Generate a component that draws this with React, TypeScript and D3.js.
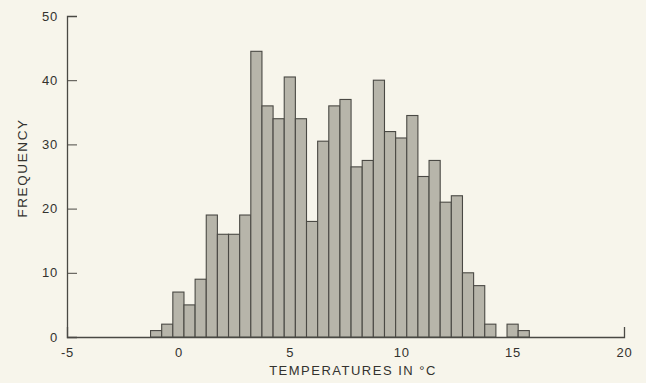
import React, {useEffect, useRef} from 'react';
import * as d3 from 'd3';

// bin centres (°C), bins are half a degree wide
const binCenters = [
  -1, -0.5, 0, 0.5, 1, 1.5, 2, 2.5, 3, 3.5, 4, 4.5, 5, 5.5, 6, 6.5, 7,
  7.5, 8, 8.5, 9, 9.5, 10, 10.5, 11, 11.5, 12, 12.5, 13, 13.5, 14, 14.5, 15, 15.5,
];
const frequencies = [
  1, 2, 7, 5, 9, 19, 16, 16, 19, 44.5, 36, 34, 40.5, 34, 18, 30.5, 36,
  37, 26.5, 27.5, 40, 32, 31, 34.5, 25, 27.5, 21, 22, 10, 8, 2, 0, 2, 1,
];
const xTicks = [-5, 0, 5, 10, 15, 20];
const yTicks = [0, 10, 20, 30, 40, 50];

const width = 646;
const height = 383;
const binWidth = 0.5;

const App: React.FC = () => {
  const ref = useRef<SVGSVGElement>(null);

  useEffect(() => {
    const svg = d3.select(ref.current);
    svg.selectAll('*').remove();

    const x = d3.scaleLinear([-5, 20], [67, 624]);
    const y = d3.scaleLinear([0, 50], [337, 16]);
    const ink = '#4a4944';
    const font = '"Liberation Sans", Arial, sans-serif';

    svg.append('rect')
      .attr('width', width)
      .attr('height', height)
      .attr('fill', '#f7f5eb');

    // x axis, ticks point inwards, plain hyphen for -5
    svg.append('g')
      .attr('transform', `translate(0,${y(0)})`)
      .call(d3.axisBottom(x).tickValues(xTicks).tickFormat(d => String(d))
        .tickSize(-10).tickSizeOuter(-10).tickPadding(11))
      .call(g => g.select('.domain').attr('stroke', ink).attr('stroke-width', 1.3))
      .call(g => g.selectAll('.tick line').attr('stroke', ink))
      .call(g => g.selectAll('.tick text')
        .attr('fill', '#33322e')
        .attr('font-size', 13)
        .attr('letter-spacing', 0.8)
        .attr('font-family', font));

    // y axis
    svg.append('g')
      .attr('transform', `translate(${x(-5)},0)`)
      .call(d3.axisLeft(y).tickValues(yTicks).tickSize(-10).tickSizeOuter(-10).tickPadding(9))
      .call(g => g.select('.domain').attr('stroke', ink).attr('stroke-width', 1.3))
      .call(g => g.selectAll('.tick line').attr('stroke', ink))
      .call(g => g.selectAll('.tick text')
        .attr('fill', '#33322e')
        .attr('font-size', 13)
        .attr('letter-spacing', 0.8)
        .attr('font-family', font));

    const bins = binCenters.map((c, i) => ({c, f: frequencies[i]})).filter(d => d.f > 0);

    svg.append('g')
      .selectAll('rect')
      .data(bins)
      .join('rect')
      .attr('x', d => x(d.c - binWidth / 2))
      .attr('y', d => y(d.f))
      .attr('width', d => x(d.c + binWidth / 2) - x(d.c - binWidth / 2))
      .attr('height', d => y(0) - y(d.f))
      .attr('fill', '#b7b5aa')
      .attr('stroke', ink)
      .attr('stroke-width', 1.1);

    // axis titles
    svg.append('text')
      .attr('x', 353)
      .attr('y', 375)
      .attr('text-anchor', 'middle')
      .attr('fill', '#33322e')
      .attr('font-size', 13)
      .attr('letter-spacing', 1.5)
      .attr('font-family', font)
      .text('TEMPERATURES IN °C');

    svg.append('text')
      .attr('transform', `translate(27,168) rotate(-90)`)
      .attr('text-anchor', 'middle')
      .attr('fill', '#33322e')
      .attr('font-size', 13.5)
      .attr('letter-spacing', 1.6)
      .attr('font-family', font)
      .text('FREQUENCY');
  }, []);

  return <svg ref={ref} width={width} height={height}
              style={{position: 'absolute', left: 0, top: 0}}/>;
};

export default App;
